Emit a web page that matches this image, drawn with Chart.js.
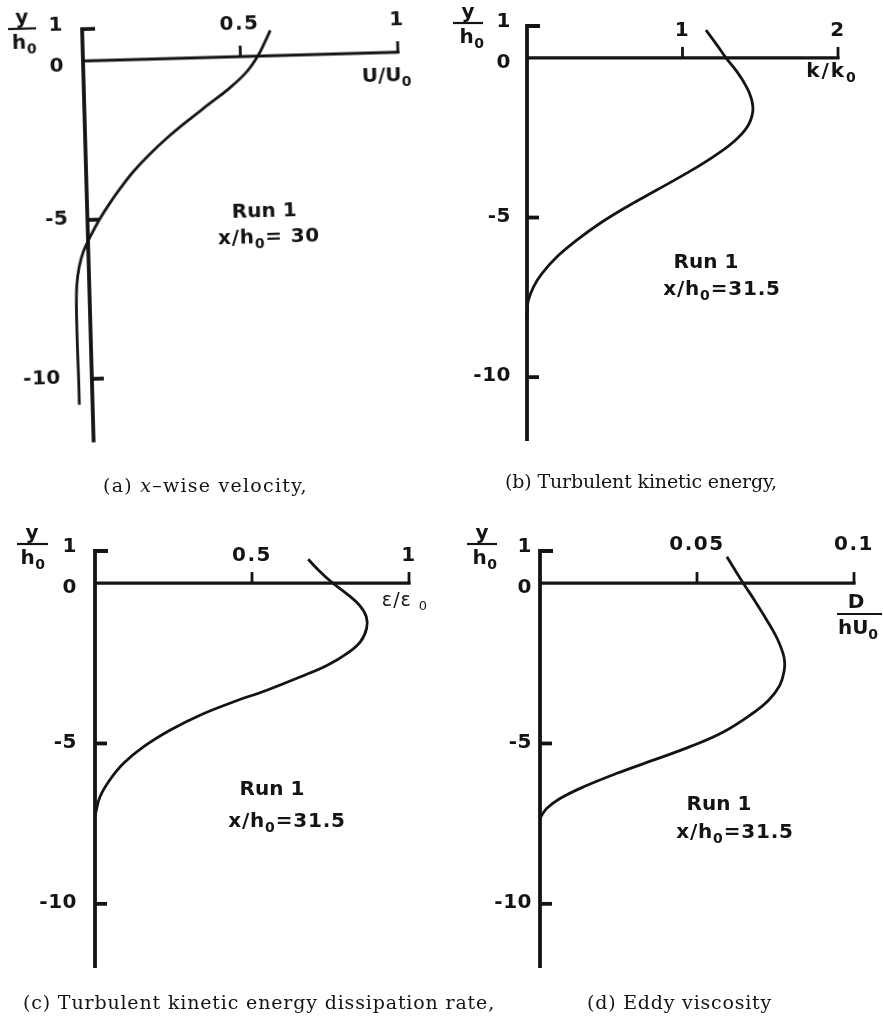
<!DOCTYPE html>
<html>
<head>
<meta charset="utf-8">
<script src="https://cdn.jsdelivr.net/npm/chart.js@4.4.1/dist/chart.umd.min.js"></script>
<style>
html,body{margin:0;padding:0;background:#fff;}
#page{position:relative;width:883px;height:1020px;overflow:hidden;background:#fff;}
#page canvas{position:absolute;left:0;top:0;}
.cap{position:absolute;font-family:"DejaVu Serif","Liberation Serif",serif;font-size:19px;line-height:22px;color:#141414;white-space:nowrap;}
</style>
</head>
<body>
<div id="page">
  <canvas id="chartA" width="883" height="1020"></canvas>
  <canvas id="chartB" width="883" height="1020"></canvas>
  <canvas id="chartC" width="883" height="1020"></canvas>
  <canvas id="chartD" width="883" height="1020"></canvas>
  <div class="cap" data-w="205" style="left:103px;top:474px">(a) <i>x</i>–wise velocity,</div>
  <div class="cap" data-w="272" style="left:505px;top:470px">(b) Turbulent kinetic energy,</div>
  <div class="cap" data-w="472" style="left:23px;top:991px">(c) Turbulent kinetic energy dissipation rate,</div>
  <div class="cap" data-w="185" style="left:587px;top:991px">(d) Eddy viscosity</div>
</div>
<script>
// ---------------- data ----------------
const yTicks = [1, 0, -5, -10];
const yTickLabels = ['1', '0', '-5', '-10'];

// (a) x-wise velocity U/U0, Run 1, x/h0 = 30
const velocityDepth = [0.8, 0.5, 0, -0.5, -1, -1.5, -2, -2.5, -3, -3.5, -4, -4.5, -5, -5.5, -6, -6.5, -7, -7.5, -8, -9, -10, -10.8];
const velocityU     = [0.597, 0.582, 0.555, 0.517, 0.460, 0.391, 0.323, 0.259, 0.202, 0.152, 0.110, 0.072, 0.038, 0.009, -0.016, -0.031, -0.039, -0.042, -0.043, -0.043, -0.042, -0.042];
const velocityTicks = [0.5, 1];
const velocityTickLabels = ['0.5', '1'];

// (b) turbulent kinetic energy k/k0, Run 1, x/h0 = 31.5
const energyDepth = [0.87, 0.40, -0.04, -0.43, -0.85, -1.26, -1.68, -2.15, -2.62, -3.09, -3.61, -4.14, -4.66, -5.18, -5.71, -6.23, -6.75, -7.17, -7.59, -7.90, -8.20];
const energyK     = [1.151, 1.222, 1.286, 1.350, 1.405, 1.442, 1.452, 1.418, 1.331, 1.200, 1.027, 0.834, 0.643, 0.470, 0.320, 0.193, 0.097, 0.042, 0.009, 0.002, 0.0];
const energyTicks = [1, 2];
const energyTickLabels = ['1', '2'];

// (c) dissipation rate eps/eps0, Run 1, x/h0 = 31.5
const dissipationDepth = [0.74, 0.35, 0.04, -0.32, -0.69, -1.05, -1.41, -1.83, -2.19, -2.56, -2.92, -3.34, -3.70, -4.11, -4.58, -5.10, -5.62, -6.14, -6.66, -7.13, -7.30];
const dissipationEps   = [0.679, 0.717, 0.752, 0.800, 0.842, 0.864, 0.865, 0.845, 0.803, 0.740, 0.655, 0.547, 0.442, 0.336, 0.240, 0.155, 0.091, 0.047, 0.016, 0.003, 0.0];
const dissipationTicks = [0.5, 1];
const dissipationTickLabels = ['0.5', '1'];

// (d) eddy viscosity D/(h U0), Run 1, x/h0 = 31.5
const viscosityDepth = [0.82, 0.41, -0.01, -0.58, -1.15, -1.72, -2.19, -2.45, -2.71, -3.18, -3.65, -4.11, -4.64, -5.10, -5.52, -5.93, -6.35, -6.71, -7.02, -7.23, -7.35];
const viscosityD     = [0.0595, 0.0621, 0.0648, 0.0686, 0.0722, 0.0755, 0.0774, 0.0779, 0.0778, 0.0764, 0.0728, 0.0670, 0.0584, 0.0478, 0.0361, 0.0245, 0.0139, 0.0065, 0.0022, 0.0006, 0.0];
const viscosityTicks = [0.05, 0.1];
const viscosityTickLabels = ['0.05', '0.1'];

// ---------------- drawing ----------------
const INK = '#141414';
const FONT = '"DejaVu Sans", "Liberation Sans", sans-serif';
const PAGE_W = 883, PAGE_H = 1020;

function rich(ctx, segs, cx, cy, opt) {
  opt = opt || {};
  const size = opt.size || 20, subSize = Math.round(size * 0.68), ls = opt.ls == null ? 1 : opt.ls;
  const weight = opt.weight || 'bold';
  ctx.save();
  ctx.fillStyle = INK;
  ctx.textBaseline = 'middle';
  ctx.textAlign = 'left';
  if ('letterSpacing' in ctx) ctx.letterSpacing = ls + 'px';
  const fontOf = s => weight + ' ' + (s.sub ? subSize : size) + 'px ' + FONT;
  const widths = segs.map(s => { ctx.font = fontOf(s); return ctx.measureText(s.t).width; });
  const total = widths.reduce((a, b) => a + b, 0);
  let x = opt.align === 'right' ? cx - total : (opt.align === 'left' ? cx : cx - total / 2);
  segs.forEach((s, i) => {
    ctx.font = fontOf(s);
    ctx.fillText(s.t, x, cy + (s.sub ? size * 0.3 : 0));
    x += widths[i];
  });
  ctx.restore();
}

function makeFigurePlugin(p) {
  return {
    id: 'figure',
    beforeDatasetsDraw(chart) {
      const ctx = chart.ctx, xs = chart.scales.x, ys = chart.scales.y;
      const x0 = xs.getPixelForValue(0);
      const yTop = ys.getPixelForValue(yTicks[0]);
      const yBot = ys.getPixelForValue(-12);
      const y0 = ys.getPixelForValue(0);
      const xEnd = xs.getPixelForValue(p.xMax);
      ctx.save();
      ctx.strokeStyle = INK;
      ctx.lineWidth = 3.8;
      ctx.lineJoin = 'miter';
      ctx.lineCap = 'butt';
      ctx.beginPath();
      ctx.moveTo(x0 + 13, yTop);
      ctx.lineTo(x0, yTop);
      ctx.lineTo(x0, yBot);
      ctx.stroke();
      yTicks.forEach(v => {
        if (v === 0 || v === yTicks[0]) return;
        const py = ys.getPixelForValue(v);
        ctx.beginPath(); ctx.moveTo(x0, py); ctx.lineTo(x0 + 12, py); ctx.stroke();
      });
      ctx.lineWidth = 3.2;
      ctx.beginPath(); ctx.moveTo(x0, y0); ctx.lineTo(xEnd + 1.5, y0); ctx.stroke();
      ctx.lineWidth = 2.8;
      p.xTicks.forEach(v => {
        const px = xs.getPixelForValue(v);
        ctx.beginPath(); ctx.moveTo(px, y0 + 1); ctx.lineTo(px, y0 - 11); ctx.stroke();
      });
      ctx.restore();
    },
    afterDatasetsDraw(chart) {
      const ctx = chart.ctx, xs = chart.scales.x, ys = chart.scales.y;
      const x0 = xs.getPixelForValue(0);
      const yTop = ys.getPixelForValue(yTicks[0]);
      p.xTicks.forEach((v, i) => {
        rich(ctx, [{ t: p.xTickLabels[i] }], xs.getPixelForValue(v), yTop + p.xLabelDy, { ls: 1.5 });
      });
      yTicks.forEach((v, i) => {
        const dy = v === 1 ? -4 : (v === 0 ? 5 : -1);
        const gap = p.yLabelGap + (v === -10 ? (p.tenExtraGap || 0) : 0);
        rich(ctx, [{ t: yTickLabels[i] }], x0 - gap, ys.getPixelForValue(v) + dy, { align: 'right', ls: 0.5 });
      });
      const f = p.frac;
      ctx.save();
      ctx.strokeStyle = INK; ctx.lineWidth = 2.2;
      ctx.beginPath(); ctx.moveTo(f.x1, f.ly); ctx.lineTo(f.x2, f.ly); ctx.stroke();
      ctx.restore();
      rich(ctx, [{ t: 'y' }], f.yx, f.ly - 10, { ls: 0 });
      rich(ctx, [{ t: 'h' }, { t: '0', sub: true }], f.hx, f.ly + 15, { ls: 0.5 });
      const t = p.title;
      if (t.den) {
        ctx.save();
        ctx.strokeStyle = INK; ctx.lineWidth = 2.2;
        ctx.beginPath(); ctx.moveTo(t.x1, t.ly); ctx.lineTo(t.x2, t.ly); ctx.stroke();
        ctx.restore();
        rich(ctx, t.num, t.nx, t.ly - 11, { ls: 0 });
        rich(ctx, t.den, t.dx, t.ly + 15, { ls: 0 });
      } else {
        rich(ctx, t.segs, t.x, t.y, { ls: t.ls == null ? 1 : t.ls, size: t.size || 20, weight: t.weight });
      }
      rich(ctx, [{ t: 'Run 1' }], p.run.x, p.run.y, { ls: 0 });
      rich(ctx, p.station.segs, p.station.x, p.station.y, { ls: 0.8 });
    }
  };
}

const panels = [
  {
    canvas: 'chartA', xs: velocityU, ys: velocityDepth, xMin: -0.06, xMax: 1,
    area: { left: 64.1, right: 398, top: 29.2, bottom: 442.6 },
    rotate: { deg: -1.6, ox: 83, oy: 61 },
    xTicks: velocityTicks, xTickLabels: velocityTickLabels, xLabelDy: 0, yLabelGap: 19, tenExtraGap: 12,
    frac: { x1: 9, x2: 37, ly: 27, yx: 23, hx: 25 },
    title: { segs: [{ t: 'U/U' }, { t: '0', sub: true }], x: 386, y: 85, ls: 0 },
    run: { x: 260, y: 217 },
    station: { segs: [{ t: 'x/h' }, { t: '0', sub: true }, { t: '= 30' }], x: 264, y: 243 }
  },
  {
    canvas: 'chartB', xs: energyK, ys: energyDepth, xMin: 0, xMax: 2,
    area: { left: 527, right: 838, top: 26, bottom: 441 },
    xTicks: energyTicks, xTickLabels: energyTickLabels, xLabelDy: 5, yLabelGap: 16,
    frac: { x1: 453, x2: 483, ly: 23, yx: 468, hx: 472 },
    title: { segs: [{ t: 'k/k' }, { t: '0', sub: true }], x: 832, y: 72, ls: 2 },
    run: { x: 706, y: 263 },
    station: { segs: [{ t: 'x/h' }, { t: '0', sub: true }, { t: '=31.5' }], x: 722, y: 290 }
  },
  {
    canvas: 'chartC', xs: dissipationEps, ys: dissipationDepth, xMin: 0, xMax: 1,
    area: { left: 95, right: 409, top: 551, bottom: 968 },
    xTicks: dissipationTicks, xTickLabels: dissipationTickLabels, xLabelDy: 5, yLabelGap: 18,
    frac: { x1: 17, x2: 48, ly: 544, yx: 32, hx: 33 },
    title: { segs: [{ t: 'ε/ε ' }, { t: '0', sub: true }], x: 405, y: 601, size: 19, ls: 1, weight: 'normal' },
    run: { x: 272, y: 790 },
    station: { segs: [{ t: 'x/h' }, { t: '0', sub: true }, { t: '=31.5' }], x: 287, y: 822 }
  },
  {
    canvas: 'chartD', xs: viscosityD, ys: viscosityDepth, xMin: 0, xMax: 0.1,
    area: { left: 540, right: 854, top: 551, bottom: 968 },
    xTicks: viscosityTicks, xTickLabels: viscosityTickLabels, xLabelDy: -6, yLabelGap: 8,
    frac: { x1: 467, x2: 497, ly: 544, yx: 482, hx: 485 },
    title: { den: [{ t: 'hU' }, { t: '0', sub: true }], num: [{ t: 'D' }], x1: 837, x2: 882, ly: 614, nx: 856, dx: 858 },
    run: { x: 719, y: 805 },
    station: { segs: [{ t: 'x/h' }, { t: '0', sub: true }, { t: '=31.5' }], x: 735, y: 833 }
  }
];

panels.forEach(p => {
  const el = document.getElementById(p.canvas);
  if (p.rotate) {
    el.style.transformOrigin = p.rotate.ox + 'px ' + p.rotate.oy + 'px';
    el.style.transform = 'rotate(' + p.rotate.deg + 'deg)';
  }
  new Chart(el, {
    type: 'scatter',
    data: {
      datasets: [{
        data: p.ys.map((y, i) => ({ x: p.xs[i], y: y })),
        showLine: true,
        borderColor: INK,
        borderWidth: 2.8,
        pointRadius: 0,
        pointHoverRadius: 0,
        tension: 0.4,
        fill: false,
        clip: false
      }]
    },
    options: {
      responsive: false,
      animation: false,
      events: [],
      layout: {
        padding: {
          left: p.area.left,
          top: p.area.top,
          right: PAGE_W - p.area.right,
          bottom: PAGE_H - p.area.bottom
        }
      },
      plugins: { legend: { display: false }, tooltip: { enabled: false } },
      scales: {
        x: { type: 'linear', min: p.xMin, max: p.xMax, display: false },
        y: { type: 'linear', min: -12, max: 1, display: false }
      }
    },
    plugins: [makeFigurePlugin(p)]
  });
});

document.querySelectorAll('.cap').forEach(el => {
  const target = +el.dataset.w;
  el.style.letterSpacing = '0px';
  const w = el.getBoundingClientRect().width;
  const n = el.textContent.length;
  const ls = Math.max(-0.2, (target - w) / n);
  el.style.letterSpacing = ls.toFixed(2) + 'px';
});
</script>
</body>
</html>
